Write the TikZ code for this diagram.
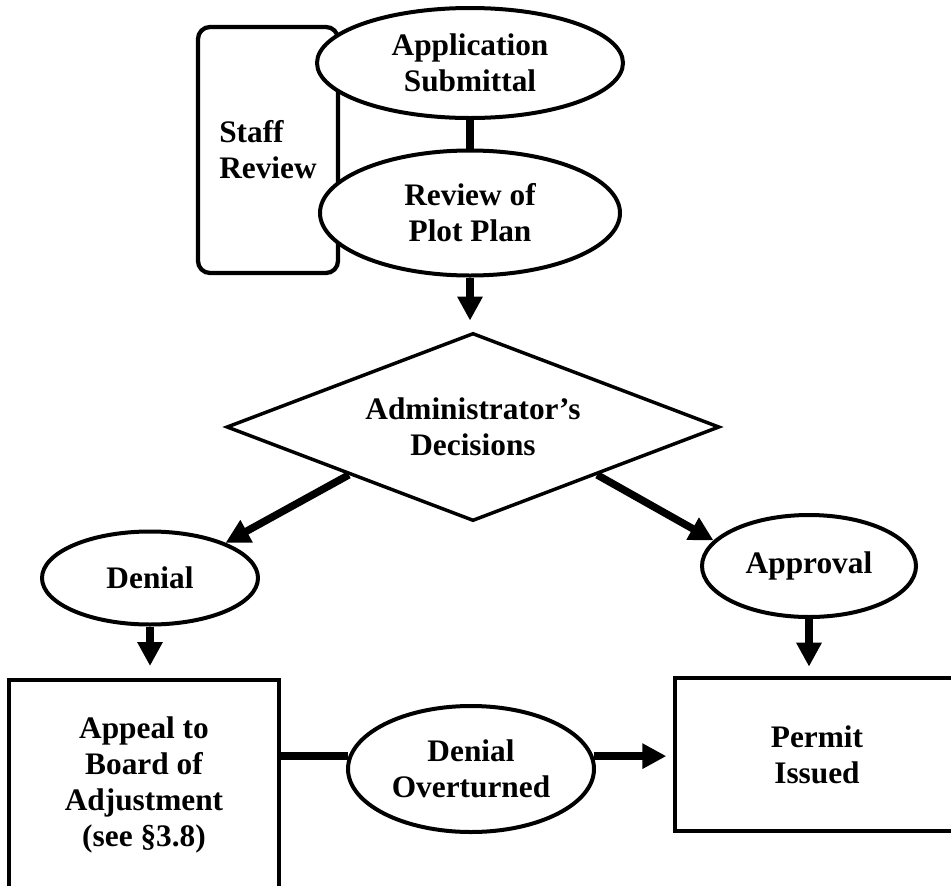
\documentclass[tikz,border=0pt]{standalone}
\usepackage{fontspec}
\setmainfont{Liberation Serif}
\usetikzlibrary{shapes.geometric}
\usetikzlibrary{arrows.meta}
\tikzstyle{oval} = [ellipse, draw, line width=3pt, fill=white, inner sep=1pt, align=center]
\tikzstyle{box} = [rectangle, draw, line width=3pt, align=center]
\tikzstyle{flow} = [line width=5.6pt, -{Triangle[length=18pt,width=18pt]}]
\tikzstyle{link} = [line width=5.6pt]

\begin{document}
\begin{tikzpicture}[x=0.75pt, y=-0.75pt, font=\fontsize{23.5}{27}\selectfont\bfseries]
    \useasboundingbox (0,0) rectangle (951,886);
    \clip (0,0) rectangle (951,886);

    % staff box sits behind the two top ovals
    \node[box, rounded corners=9pt, line width=3.2pt, align=left,
          minimum width=105pt, minimum height=184.5pt] (staff) at (268,150) {Staff\\Review};

    \node[oval, minimum width=229.5pt, minimum height=82.5pt] (sub) at (470,63) {Application\\Submittal};
    \node[oval, minimum width=225pt, minimum height=93.75pt] (plot) at (470,213) {Review of\\Plot Plan};

    \node[diamond, draw, line width=2.6pt, aspect=2.62, inner sep=0pt, align=center,
          minimum width=369.75pt, minimum height=141pt] (dec) at (473,427) {Administrator’s\\Decisions};

    \node[oval, minimum width=162pt, minimum height=69.75pt] (den) at (150,578) {Denial};
    \node[oval, minimum width=160.5pt, minimum height=76.5pt] (appr) at (809,566) {Approval};

    \node[box, minimum width=202.5pt, minimum height=157.5pt] (appeal) at (144,785) {Appeal to\\Board of\\Adjustment\\(see §3.8)};
    \node[box, minimum width=213pt, minimum height=114.75pt] (permit) at (817,754.5) {Permit\\Issued};
    \node[oval, minimum width=184.5pt, minimum height=94.5pt] (over) at (471,769) {Denial\\Overturned};

    \draw[link] (sub) -- (plot);
    \draw[flow, shorten >=8pt] (plot.south) -- (plot.south |- dec.north);
    \draw[flow] (dec.south west) -- (den.25);
    \draw[flow] (dec.south east) -- (appr.165);
    \draw[flow, shorten >=9pt] (den.south) -- (den.south |- appeal.north);
    \draw[flow, shorten >=7pt] (appr.south) -- (appr.south |- permit.north);
    \draw[link] (appeal.east |- over.174) -- (over.174);
    \draw[flow, shorten >=5pt] (over.6) -- (over.6 -| permit.west);
\end{tikzpicture}
\end{document}
